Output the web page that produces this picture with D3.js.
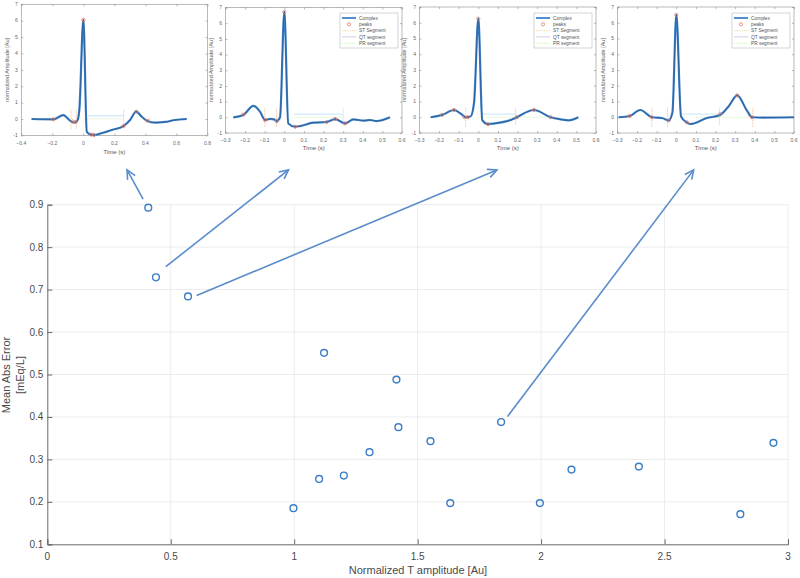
<!DOCTYPE html>
<html><head><meta charset="utf-8">
<script src="https://cdn.jsdelivr.net/npm/d3@7"></script>
<style>body{margin:0;background:#fff} svg{display:block;font-family:"Liberation Sans",Arial,sans-serif}</style>
</head><body><svg id="c" width="800" height="578"></svg>
<script>
// ---- main scatter data ----
const tAmplitude   = [0.409,0.440,0.570,0.997,1.101,1.121,1.201,1.305,1.414,1.422,1.552,1.632,1.838,1.995,2.123,2.396,2.807,2.941];
const meanAbsError = [0.893,0.729,0.684,0.185,0.254,0.551,0.262,0.317,0.488,0.376,0.343,0.197,0.388,0.197,0.276,0.283,0.171,0.339];
const xTicks = [0,0.5,1,1.5,2,2.5,3];
const yTicks = [0.1,0.2,0.3,0.4,0.5,0.6,0.7,0.8,0.9];
const xTickLabels = ["0","0.5","1","1.5","2","2.5","3"];
const yTickLabels = ["0.1","0.2","0.3","0.4","0.5","0.6","0.7","0.8","0.9"];
// arrows (data units): from a point towards its inset
const arrowFromX = [0.388,0.480,0.605,1.864];
const arrowFromY = [0.913,0.754,0.686,0.401];
const arrowToX   = [0.323,0.977,1.821,2.618];
const arrowToY   = [0.982,0.982,0.982,0.982];

// ---- inset ECG complexes ----
const ecg1T = [-0.334,-0.194,-0.129,-0.086,-0.058,-0.039,-0.026,0,0.022,0.043,0.071,0.097,0.183,0.258,0.301,0.34,0.376,0.409,0.462,0.527,0.59,0.666];
const ecg1A = [0,-0.02,0.24,-0.1,-0.22,-0.1,0.55,6.05,-0.77,-0.94,-0.98,-0.92,-0.67,-0.43,-0.06,0.45,0.14,-0.1,-0.22,-0.18,-0.06,0];
const pk1T = [-0.194,-0.07,-0.05,0,0.05,0.068,0.258,0.342,0.415];
const pk1A = [-0.02,-0.15,-0.18,6.05,-0.95,-0.97,-0.43,0.45,-0.1];

const ecg2T = [-0.26,-0.209,-0.158,-0.124,-0.098,-0.073,-0.053,-0.039,-0.022,0,0.02,0.055,0.08,0.148,0.216,0.259,0.31,0.352,0.403,0.437,0.471,0.539];
const ecg2A = [0,0.15,0.73,0.36,-0.17,-0.1,-0.13,-0.24,0,6.72,-0.39,-0.6,-0.56,-0.34,-0.3,-0.11,-0.39,-0.13,-0.21,-0.17,-0.24,0];
const pk2T = [-0.209,-0.098,-0.039,0,0.055,0.216,0.259,0.31];
const pk2A = [0.18,-0.17,-0.24,6.72,-0.6,-0.3,-0.11,-0.39];

const ecg3T = [-0.243,-0.184,-0.124,-0.082,-0.065,-0.04,-0.022,0,0.02,0.049,0.08,0.18,0.196,0.284,0.369,0.42,0.46,0.51];
const ecg3A = [0,0.15,0.46,0.15,0,0.05,0.9,6.26,-0.18,-0.44,-0.4,-0.1,0,0.46,0,-0.13,-0.2,0];
const pk3T = [-0.184,-0.124,-0.07,-0.055,0,0.049,0.196,0.284,0.369];
const pk3A = [0.15,0.46,0,0,6.26,-0.44,0,0.46,0];

const ecg4T = [-0.294,-0.238,-0.184,-0.124,-0.073,-0.039,-0.02,0,0.024,0.054,0.071,0.156,0.224,0.267,0.31,0.361,0.386,0.44,0.6];
const ecg4A = [0,0.08,0.46,0,-0.05,-0.2,0.3,6.5,0.05,-0.33,-0.43,-0.05,0.15,0.7,1.39,0.4,0,-0.02,0];
const pk4T = [-0.238,-0.124,-0.039,0,0.054,0.224,0.31,0.386];
const pk4A = [0.08,0,-0.2,6.5,-0.33,0.2,1.39,0];

// segment markers per inset (times)
const stLines = [[-0.08,-0.045],[-0.1,-0.04],[-0.065],[-0.125,-0.045,0.39]];
const qtSpans = [[0.03,0.26],[0.05,0.3],[0.02,0.19],[0.02,0.22]];
const prSpans = [[0,0.26],[0.05,0.3],[0,0.37],[0.1,0.39]];

const inset1XTicks = [-0.4,-0.2,0,0.2,0.4,0.6,0.8];
const inset234XTicks = [-0.3,-0.2,-0.1,0,0.1,0.2,0.3,0.4,0.5,0.6];
const insetYTicks = [-1,0,1,2,3,4,5,6,7];
const legendLabels = ["Complex","peaks","ST Segment","QT segment","PR segment"];

const svg = d3.select("#c");
const blue = "#3f82c8";

// ---- main axes ----
const x = d3.scaleLinear().domain([0,3]).range([47.3,788]);
const y = d3.scaleLinear().domain([0.1,0.9]).range([544.3,204.7]);
const g = svg.append("g");
// grid
g.selectAll(".gx").data(xTicks.slice(1)).enter().append("line")
  .attr("x1",d=>x(d)).attr("x2",d=>x(d)).attr("y1",y(0.1)).attr("y2",y(0.9))
  .attr("stroke","#ececec").attr("stroke-width",1);
g.selectAll(".gy").data(yTicks.slice(1)).enter().append("line")
  .attr("x1",x(0)).attr("x2",x(3)).attr("y1",d=>y(d)).attr("y2",d=>y(d))
  .attr("stroke","#ececec").attr("stroke-width",1);
// axes with inward ticks
const xa = g.append("g").attr("transform",`translate(0,${y(0.1)})`)
  .call(d3.axisTop(x).tickValues(xTicks).tickSize(5).tickFormat(""));
const ya = g.append("g").attr("transform",`translate(${x(0)},0)`)
  .call(d3.axisRight(y).tickValues(yTicks).tickSize(5).tickFormat(""));
[xa,ya].forEach(a=>{a.selectAll("path,line").attr("stroke","#6a6a6a");});
g.selectAll(".xl").data(xTicks).enter().append("text")
  .attr("x",d=>x(d)).attr("y",y(0.1)+16).attr("text-anchor","middle")
  .attr("font-size",10).attr("fill","#4a4a4a").text((d,i)=>xTickLabels[i]);
g.selectAll(".yl").data(yTicks).enter().append("text")
  .attr("x",x(0)-4).attr("y",d=>y(d)+3.5).attr("text-anchor","end")
  .attr("font-size",10).attr("fill","#4a4a4a").text((d,i)=>yTickLabels[i]);
g.append("text").attr("x",418).attr("y",574).attr("text-anchor","middle")
  .attr("font-size",11).attr("fill","#4a4a4a").text("Normalized T amplitude [Au]");
g.append("text").attr("transform","translate(10,375) rotate(-90)").attr("text-anchor","middle")
  .attr("font-size",11).attr("fill","#4a4a4a").text("Mean Abs Error");
g.append("text").attr("transform","translate(24,375) rotate(-90)").attr("text-anchor","middle")
  .attr("font-size",11).attr("fill","#4a4a4a").text("[mEq/L]");
// points
g.selectAll(".pt").data(tAmplitude).enter().append("circle")
  .attr("cx",d=>x(d)).attr("cy",(d,i)=>y(meanAbsError[i])).attr("r",3.4)
  .attr("fill","none").attr("stroke","#3a7dc6").attr("stroke-width",1.4);
// arrows
arrowFromX.forEach((fx,i)=>{
  const x1=x(fx), y1=y(arrowFromY[i]), x2=x(arrowToX[i]), y2=y(arrowToY[i]);
  const ang=Math.atan2(y2-y1,x2-x1), L=10, sp=0.45;
  const col="#5a8ccc";
  g.append("line").attr("x1",x1).attr("y1",y1).attr("x2",x2).attr("y2",y2)
    .attr("stroke",col).attr("stroke-width",1.6);
  g.append("path").attr("d",`M${x2-L*Math.cos(ang-sp)},${y2-L*Math.sin(ang-sp)}L${x2},${y2}L${x2-L*Math.cos(ang+sp)},${y2-L*Math.sin(ang+sp)}`)
    .attr("fill","none").attr("stroke",col).attr("stroke-width",1.6);
});

// ---- insets ----
const fmt = d=>Math.abs(d)<1e-9?"0":d3.format(".1f")(d);
const insets = [
  {t:ecg1T,a:ecg1A,pt:pk1T,pa:pk1A,xd:[-0.4,0.8],xr:[21.3,207.5],yr:[135.4,4.3],ticks:inset1XTicks,ylab:9,tlY:145,labY:154,legend:false},
  {t:ecg2T,a:ecg2A,pt:pk2T,pa:pk2A,xd:[-0.3,0.6],xr:[225.5,402],yr:[133,7.5],ticks:inset234XTicks,ylab:213,tlY:141.5,labY:150,legend:true},
  {t:ecg3T,a:ecg3A,pt:pk3T,pa:pk3A,xd:[-0.3,0.6],xr:[419.5,596],yr:[133,7],ticks:inset234XTicks,ylab:406,tlY:141.5,labY:150,legend:true},
  {t:ecg4T,a:ecg4A,pt:pk4T,pa:pk4A,xd:[-0.3,0.6],xr:[617.5,794],yr:[133,7],ticks:inset234XTicks,ylab:605,tlY:141.5,labY:150,legend:true}
];
insets.forEach((ins,k)=>{
  const ix=d3.scaleLinear().domain(ins.xd).range(ins.xr);
  const iy=d3.scaleLinear().domain([-1,7]).range(ins.yr);
  const ig=svg.append("g");
  ig.append("rect").attr("x",ins.xr[0]).attr("y",ins.yr[1]).attr("width",ins.xr[1]-ins.xr[0]).attr("height",ins.yr[0]-ins.yr[1])
    .attr("fill","#fff").attr("stroke","#9a9a9a").attr("stroke-width",0.7);
  const tc="#8a8a8a";
  ig.append("g").attr("transform",`translate(0,${ins.yr[0]})`).call(d3.axisTop(ix).tickValues(ins.ticks).tickSize(2).tickFormat(""))
    .call(a=>{a.select("path").remove();a.selectAll("line").attr("stroke",tc).attr("stroke-width",0.6);});
  ig.append("g").attr("transform",`translate(0,${ins.yr[1]})`).call(d3.axisBottom(ix).tickValues(ins.ticks).tickSize(2).tickFormat(""))
    .call(a=>{a.select("path").remove();a.selectAll("line").attr("stroke",tc).attr("stroke-width",0.6);});
  ig.append("g").attr("transform",`translate(${ins.xr[0]},0)`).call(d3.axisRight(iy).tickValues(insetYTicks).tickSize(2).tickFormat(""))
    .call(a=>{a.select("path").remove();a.selectAll("line").attr("stroke",tc).attr("stroke-width",0.6);});
  ig.append("g").attr("transform",`translate(${ins.xr[1]},0)`).call(d3.axisLeft(iy).tickValues(insetYTicks).tickSize(2).tickFormat(""))
    .call(a=>{a.select("path").remove();a.selectAll("line").attr("stroke",tc).attr("stroke-width",0.6);});
  ig.selectAll(".tx").data(ins.ticks).enter().append("text").attr("x",d=>ix(d)).attr("y",ins.tlY)
    .attr("text-anchor","middle").attr("font-size",5).attr("fill","#666").text(fmt);
  ig.selectAll(".ty").data(insetYTicks).enter().append("text").attr("x",ins.xr[0]-3.5).attr("y",d=>iy(d)+1.8)
    .attr("text-anchor","end").attr("font-size",5).attr("fill","#666").text(d=>d);
  ig.append("text").attr("x",(ins.xr[0]+ins.xr[1])/2).attr("y",ins.labY).attr("text-anchor","middle")
    .attr("font-size",6).attr("fill","#555").text("Time (s)");
  ig.append("text").attr("transform",`translate(${ins.ylab},${(ins.yr[0]+ins.yr[1])/2}) rotate(-90)`).attr("text-anchor","middle")
    .attr("font-size",5.5).attr("fill","#666").text("normalized Amplitude [Au]");
  // segments
  stLines[k].forEach(t=>{
    ig.append("line").attr("x1",ix(t)).attr("x2",ix(t)).attr("y1",iy(-0.6)).attr("y2",iy(0.6))
      .attr("stroke","#f0a060").attr("stroke-width",0.6).attr("stroke-dasharray","1.5,1");
  });
  ig.append("line").attr("x1",ix(qtSpans[k][0])).attr("x2",ix(qtSpans[k][1])).attr("y1",iy(0.2)).attr("y2",iy(0.2))
    .attr("stroke","#9fd0f0").attr("stroke-width",0.6);
  ig.append("line").attr("x1",ix(qtSpans[k][1])).attr("x2",ix(qtSpans[k][1])).attr("y1",iy(-0.5)).attr("y2",iy(0.6))
    .attr("stroke","#c8c8e0").attr("stroke-width",0.5);
  ig.append("line").attr("x1",ix(prSpans[k][0])).attr("x2",ix(prSpans[k][1])).attr("y1",iy(0)).attr("y2",iy(0))
    .attr("stroke","#b8e0a0").attr("stroke-width",0.6).attr("stroke-dasharray","1,1");
  // curve
  const line=d3.line().x(d=>ix(d[0])).y(d=>iy(d[1])).curve(d3.curveMonotoneX);
  const pts=ins.t.map((t,i)=>[t,ins.a[i]]);
  ig.append("path").attr("d",line(pts)).attr("fill","none").attr("stroke",blue).attr("stroke-width",2.2).attr("stroke-linejoin","round");
  ig.append("path").attr("d",line(pts)).attr("fill","none").attr("stroke","#24548c").attr("stroke-width",0.7);
  ig.selectAll(".pk").data(ins.pt).enter().append("circle").attr("cx",d=>ix(d)).attr("cy",(d,i)=>iy(ins.pa[i])).attr("r",1.6)
    .attr("fill","none").attr("stroke","#e8765e").attr("stroke-width",0.8);
  if(ins.legend){
    const lx=ins.xr[1]-62, ly=13, lw=58, lh=35;
    const lg=ig.append("g");
    lg.append("rect").attr("x",lx).attr("y",ly).attr("width",lw).attr("height",lh).attr("fill","#fff").attr("stroke","#aaa").attr("stroke-width",0.5);
    legendLabels.forEach((lab,j)=>{
      const yy=ly+5+j*6.3;
      if(j===0) lg.append("line").attr("x1",lx+2).attr("x2",lx+16).attr("y1",yy).attr("y2",yy).attr("stroke",blue).attr("stroke-width",1.8);
      if(j===1) lg.append("circle").attr("cx",lx+9).attr("cy",yy).attr("r",1.6).attr("fill","none").attr("stroke","#e8765e").attr("stroke-width",0.8);
      if(j===2) lg.append("line").attr("x1",lx+2).attr("x2",lx+16).attr("y1",yy).attr("y2",yy).attr("stroke","#f0c060").attr("stroke-width",0.6).attr("stroke-dasharray","1.5,1");
      if(j===3) lg.append("line").attr("x1",lx+2).attr("x2",lx+16).attr("y1",yy).attr("y2",yy).attr("stroke","#c0a0d8").attr("stroke-width",0.6);
      if(j===4) lg.append("line").attr("x1",lx+2).attr("x2",lx+16).attr("y1",yy).attr("y2",yy).attr("stroke","#a8d890").attr("stroke-width",0.6).attr("stroke-dasharray","1,1");
      lg.append("text").attr("x",lx+19).attr("y",yy+1.6).attr("text-anchor","start")
        .attr("font-size",4.8).attr("fill","#555").text(lab);
    });
  }
});
</script></body></html>
